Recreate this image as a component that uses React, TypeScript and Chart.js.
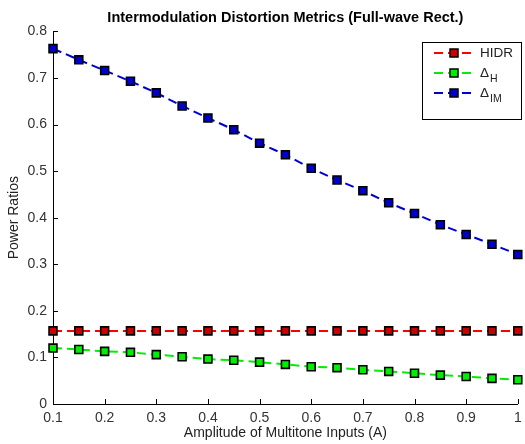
import React, { useEffect, useRef } from "react";
import { Chart, registerables } from "chart.js";

Chart.register(...registerables);

const amplitudes = [0.1, 0.15, 0.2, 0.25, 0.3, 0.35, 0.4, 0.45, 0.5, 0.55, 0.6, 0.65, 0.7, 0.75, 0.8, 0.85, 0.9, 0.95, 1.0];
const hidr = [0.157, 0.157, 0.157, 0.157, 0.157, 0.157, 0.157, 0.157, 0.157, 0.157, 0.157, 0.157, 0.157, 0.157, 0.157, 0.157, 0.157, 0.157, 0.157];
const deltaH = [0.12, 0.117, 0.113, 0.111, 0.106, 0.1015, 0.0964, 0.094, 0.0899, 0.085, 0.08, 0.078, 0.0735, 0.07, 0.066, 0.062, 0.059, 0.055, 0.052];
const deltaIM = [0.763, 0.739, 0.716, 0.693, 0.668, 0.64, 0.614, 0.589, 0.56, 0.535, 0.506, 0.481, 0.458, 0.432, 0.409, 0.385, 0.364, 0.343, 0.321];
const xTicks = [0.1, 0.2, 0.3, 0.4, 0.5, 0.6, 0.7, 0.8, 0.9, 1];
const yTicks = [0, 0.1, 0.2, 0.3, 0.4, 0.5, 0.6, 0.7, 0.8];
const seriesNames = ["HIDR", "Δ", "Δ"];
const seriesSubs = ["", "H", "IM"];
const titleText = "Intermodulation Distortion Metrics (Full-wave Rect.)";
const xTitle = "Amplitude of Multitone Inputs (A)";
const yTitle = "Power Ratios";

const FONT = "'Liberation Sans', Arial, Helvetica, sans-serif";
const lineColors = ["#ff0000", "#00ee00", "#0000cc"];
const fillColors = ["#cc0000", "#00ee00", "#0000cc"];

const insideTicks = {
  id: "insideTicks",
  beforeDatasetsDraw(chart: any) {
    const { ctx, chartArea, scales } = chart;
    const xs = scales.x;
    const ys = scales.y;
    ctx.save();
    ctx.strokeStyle = "#000";
    ctx.lineWidth = 1;
    ctx.beginPath();
    xTicks.forEach((v) => {
      const px = Math.round(xs.getPixelForValue(v)) + 0.5;
      ctx.moveTo(px, chartArea.bottom);
      ctx.lineTo(px, chartArea.bottom - 5);
    });
    yTicks.forEach((v) => {
      const py = Math.round(ys.getPixelForValue(v)) + 0.5;
      ctx.moveTo(chartArea.left, py);
      ctx.lineTo(chartArea.left + 5, py);
    });
    ctx.stroke();
    ctx.restore();
  },
};

const customLegend = {
  id: "customLegend",
  afterDraw(chart: any) {
    const { ctx } = chart;
    const left = 422.5;
    const top = 42.5;
    const w = 99;
    const h = 77;
    ctx.save();
    ctx.fillStyle = "#fff";
    ctx.fillRect(left, top, w, h);
    ctx.strokeStyle = "#000";
    ctx.lineWidth = 1;
    ctx.strokeRect(left, top, w, h);
    const rowY = [53, 73, 93];
    seriesNames.forEach((name, i) => {
      const y = rowY[i];
      ctx.strokeStyle = lineColors[i];
      ctx.lineWidth = 2;
      ctx.setLineDash([9, 5]);
      ctx.beginPath();
      ctx.moveTo(434, y);
      ctx.lineTo(474, y);
      ctx.stroke();
      ctx.setLineDash([]);
      ctx.fillStyle = fillColors[i];
      ctx.fillRect(450, y - 4, 8, 8);
      ctx.strokeStyle = "#000";
      ctx.lineWidth = 1.5;
      ctx.strokeRect(450, y - 4, 8, 8);
      ctx.fillStyle = "#222";
      ctx.textBaseline = "middle";
      ctx.textAlign = "left";
      ctx.font = `13.5px ${FONT}`;
      ctx.fillText(name, 480, y);
      if (seriesSubs[i]) {
        const mw = ctx.measureText(name).width;
        ctx.font = `10.5px ${FONT}`;
        ctx.fillText(seriesSubs[i], 480 + mw + 1, y + 6);
      }
    });
    ctx.restore();
  },
};

export default function App() {
  const ref = useRef<HTMLCanvasElement>(null);
  useEffect(() => {
    if (!ref.current) return;
    const series = [hidr, deltaH, deltaIM];
    const chart = new Chart(ref.current, {
      type: "line",
      data: {
        datasets: series.map((vals, i) => ({
          label: seriesNames[i] + seriesSubs[i],
          data: amplitudes.map((a, j) => ({ x: a, y: vals[j] })),
          borderColor: lineColors[i],
          borderWidth: 2,
          borderDash: [9, 5],
          backgroundColor: fillColors[i],
          pointStyle: "rect",
          pointRadius: 5.6,
          pointBackgroundColor: fillColors[i],
          pointBorderColor: "#000",
          pointBorderWidth: 1.6,
          tension: 0,
          fill: false,
          clip: false,
        })),
      },
      options: {
        animation: false,
        responsive: false,
        devicePixelRatio: 1,
        layout: { padding: { left: 0, right: -4, top: 0, bottom: 0 } },
        plugins: {
          legend: { display: false },
          tooltip: { enabled: false },
          title: {
            display: true,
            text: titleText,
            fullSize: false,
            color: "#000",
            font: { size: 14.5, weight: "bold", family: FONT },
            padding: { top: 9, bottom: 5 },
          },
        },
        scales: {
          x: {
            type: "linear",
            min: 0.1,
            max: 1,
            afterBuildTicks: (s: any) => {
              s.ticks = xTicks.map((v) => ({ value: v }));
            },
            afterFit: (s: any) => {
              s.height = 40;
              s.paddingRight = 0;
              s.paddingLeft = 0;
            },
            grid: { display: false, drawTicks: false },
            border: { display: true, color: "#000", width: 1 },
            ticks: {
              color: "#333",
              font: { size: 14, family: FONT },
              padding: 6,
              maxRotation: 0,
              autoSkip: false,
              callback: (v: any) => String(+Number(v).toFixed(2)),
            },
            title: {
              display: true,
              text: xTitle,
              color: "#222",
              font: { size: 14, family: FONT },
              padding: { top: 0, bottom: 2 },
            },
          },
          y: {
            type: "linear",
            min: 0,
            max: 0.8,
            afterBuildTicks: (s: any) => {
              s.ticks = yTicks.map((v) => ({ value: v }));
            },
            afterFit: (s: any) => {
              s.width = 53;
            },
            grid: { display: false, drawTicks: false },
            border: { display: true, color: "#000", width: 1 },
            ticks: {
              color: "#333",
              font: { size: 14, family: FONT },
              padding: 6,
              autoSkip: false,
              callback: (v: any) => String(+Number(v).toFixed(2)),
            },
            title: {
              display: true,
              text: yTitle,
              color: "#222",
              font: { size: 14, family: FONT },
              padding: { top: 6, bottom: 0 },
            },
          },
        },
      } as any,
      plugins: [insideTicks, customLegend],
    });
    return () => chart.destroy();
  }, []);
  return (
    <div style={{ position: "fixed", left: 0, top: 0, width: 525, height: 444, background: "#fff" }}>
      <canvas ref={ref} width={525} height={444} style={{ width: 525, height: 444 }} />
    </div>
  );
}
